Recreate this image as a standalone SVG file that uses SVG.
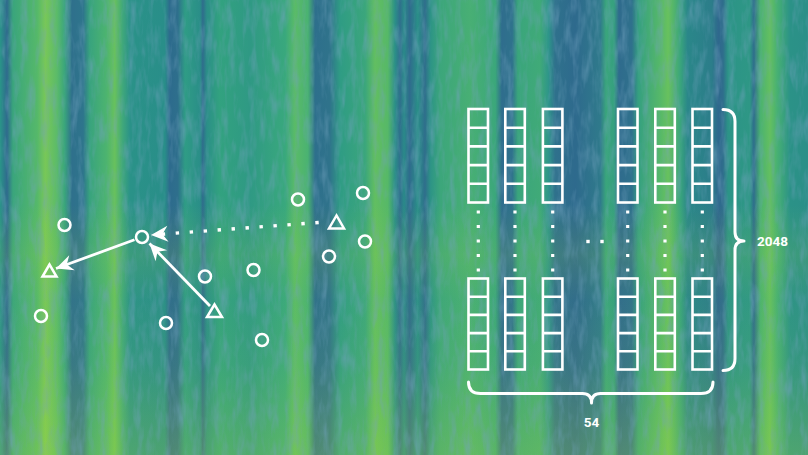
<svg xmlns="http://www.w3.org/2000/svg" width="808" height="455" viewBox="0 0 808 455">
<defs>
<linearGradient id="bg" x1="0" y1="0" x2="808" y2="0" gradientUnits="userSpaceOnUse">
<stop offset="0" stop-color="#2a9588"/>
<stop offset="0.0087" stop-color="#2f6b8d"/>
<stop offset="0.016" stop-color="#3aa57c"/>
<stop offset="0.046" stop-color="#55b86a"/>
<stop offset="0.056" stop-color="#78c758"/>
<stop offset="0.0705" stop-color="#5bbb69"/>
<stop offset="0.080" stop-color="#3aa57c"/>
<stop offset="0.089" stop-color="#2f708c"/>
<stop offset="0.103" stop-color="#2e758c"/>
<stop offset="0.111" stop-color="#38a37e"/>
<stop offset="0.132" stop-color="#4db46f"/>
<stop offset="0.142" stop-color="#68c15d"/>
<stop offset="0.152" stop-color="#3fa77b"/>
<stop offset="0.161" stop-color="#2a9288"/>
<stop offset="0.204" stop-color="#298e89"/>
<stop offset="0.210" stop-color="#2d6b8d"/>
<stop offset="0.220" stop-color="#2e6f8c"/>
<stop offset="0.229" stop-color="#2f9c85"/>
<stop offset="0.2475" stop-color="#2a8e88"/>
<stop offset="0.251" stop-color="#2f6d8c"/>
<stop offset="0.256" stop-color="#2b8f88"/>
<stop offset="0.272" stop-color="#32a27f"/>
<stop offset="0.309" stop-color="#2f9984"/>
<stop offset="0.353" stop-color="#39a87d"/>
<stop offset="0.365" stop-color="#5abb67"/>
<stop offset="0.381" stop-color="#4ab272"/>
<stop offset="0.390" stop-color="#2e6f8c"/>
<stop offset="0.408" stop-color="#2f738b"/>
<stop offset="0.421" stop-color="#2f9c84"/>
<stop offset="0.452" stop-color="#3ba67c"/>
<stop offset="0.464" stop-color="#62be61"/>
<stop offset="0.480" stop-color="#56b868"/>
<stop offset="0.489" stop-color="#2b8f88"/>
<stop offset="0.495" stop-color="#2f6f8c"/>
<stop offset="0.500" stop-color="#2a8a89"/>
<stop offset="0.507" stop-color="#2f6b8d"/>
<stop offset="0.517" stop-color="#2a8f88"/>
<stop offset="0.526" stop-color="#2f6e8c"/>
<stop offset="0.533" stop-color="#2d9486"/>
<stop offset="0.545" stop-color="#3ca67b"/>
<stop offset="0.582" stop-color="#48af74"/>
<stop offset="0.613" stop-color="#3ba77b"/>
<stop offset="0.621" stop-color="#2f6d8d"/>
<stop offset="0.634" stop-color="#2f728c"/>
<stop offset="0.641" stop-color="#3aa57c"/>
<stop offset="0.668" stop-color="#40aa78"/>
<stop offset="0.679" stop-color="#2e958a"/>
<stop offset="0.687" stop-color="#2f718c"/>
<stop offset="0.712" stop-color="#2e6a8d"/>
<stop offset="0.743" stop-color="#2f7a8b"/>
<stop offset="0.750" stop-color="#3aa57c"/>
<stop offset="0.760" stop-color="#36a07f"/>
<stop offset="0.766" stop-color="#2f6b8d"/>
<stop offset="0.782" stop-color="#2f718c"/>
<stop offset="0.790" stop-color="#35a080"/>
<stop offset="0.817" stop-color="#56b869"/>
<stop offset="0.827" stop-color="#68c15e"/>
<stop offset="0.842" stop-color="#3aa57c"/>
<stop offset="0.851" stop-color="#2a8789"/>
<stop offset="0.881" stop-color="#2c7d8a"/>
<stop offset="0.889" stop-color="#2f688d"/>
<stop offset="0.895" stop-color="#2f6e8c"/>
<stop offset="0.901" stop-color="#2c9487"/>
<stop offset="0.928" stop-color="#2e9785"/>
<stop offset="0.933" stop-color="#2f6e8c"/>
<stop offset="0.941" stop-color="#4ab270"/>
<stop offset="0.953" stop-color="#64bf60"/>
<stop offset="0.962" stop-color="#47b073"/>
<stop offset="0.978" stop-color="#2b9287"/>
<stop offset="1" stop-color="#2b8f88"/>
</linearGradient>
<linearGradient id="vt" x1="0" y1="0" x2="0" y2="455" gradientUnits="userSpaceOnUse">
<stop offset="0" stop-color="#b5de2b" stop-opacity="0"/>
<stop offset="0.45" stop-color="#b5de2b" stop-opacity="0"/>
<stop offset="0.56" stop-color="#b5de2b" stop-opacity="0.12"/>
<stop offset="0.66" stop-color="#b5de2b" stop-opacity="0.03"/>
<stop offset="0.80" stop-color="#b5de2b" stop-opacity="0.08"/>
<stop offset="1" stop-color="#b5de2b" stop-opacity="0.25"/>
</linearGradient>
<filter id="noise" x="0" y="0" width="100%" height="100%">
<feTurbulence type="fractalNoise" baseFrequency="0.14 0.035" numOctaves="3" seed="4"/>
<feColorMatrix type="matrix" values="0 0 0 0 0.17  0 0 0 0 0.36  0 0 0 0 0.52  1.1 0 0 0 -0.48"/>
</filter>
<marker id="ah" viewBox="-19 -9 21 18" refX="0" refY="0" markerWidth="21" markerHeight="18" markerUnits="userSpaceOnUse" orient="auto">
<path d="M0,0 L-17,-8 L-11.5,0 L-17,8 Z" fill="#fff"/>
</marker>
<style>
.nd{fill:none;stroke:#fff;stroke-width:2.5}
.tri{fill:none;stroke:#fff;stroke-width:2.5;stroke-linejoin:miter}
.cn{fill:none;stroke:#fff;stroke-width:2.8}
.dot{fill:none;stroke:#fff;stroke-width:3.4;stroke-dasharray:3.4 10.6}
.col{fill:none;stroke:#fff;stroke-width:2.6}
.vd{fill:none;stroke:#fff;stroke-width:3.2;stroke-dasharray:3.2 11.3}
.br{fill:none;stroke:#fff;stroke-width:3;stroke-linecap:round;stroke-linejoin:round}
.lb{fill:#fff;font-family:Roboto,"Liberation Sans",sans-serif;font-weight:bold;font-size:13.5px;text-anchor:middle}
</style>
</defs>

<g id="background">
<rect width="808" height="455" fill="url(#bg)"/>
<rect width="808" height="455" fill="url(#vt)"/>
<rect width="808" height="455" filter="url(#noise)"/>
</g>

<g id="connectors">
<path class="cn" d="M134.5,239.8 L56,268.5" marker-end="url(#ah)"/>
<path class="cn" d="M210,306 L149.5,243.5" marker-end="url(#ah)"/>
<path class="dot" d="M318.7,222.5 L151,235" marker-end="url(#ah)"/>
</g>

<g id="graph-nodes">
<g id="c1"><circle class="nd" cx="64.5" cy="225" r="6"/></g>
<g id="c2"><circle class="nd" cx="142" cy="237" r="6"/></g>
<g id="c3"><circle class="nd" cx="41" cy="316" r="6"/></g>
<g id="c4"><circle class="nd" cx="166" cy="323" r="6"/></g>
<g id="c5"><circle class="nd" cx="205" cy="276.5" r="6"/></g>
<g id="c6"><circle class="nd" cx="253.5" cy="270" r="6"/></g>
<g id="c7"><circle class="nd" cx="262" cy="340" r="6"/></g>
<g id="c8"><circle class="nd" cx="298" cy="199.5" r="6"/></g>
<g id="c9"><circle class="nd" cx="363" cy="193" r="6"/></g>
<g id="c10"><circle class="nd" cx="329" cy="256.5" r="6"/></g>
<g id="c11"><circle class="nd" cx="365" cy="241.5" r="6"/></g>
<g id="t1"><polygon class="tri" points="49.5,264.5 42.5,276.5 56.5,276.5"/></g>
<g id="t2"><polygon class="tri" points="214.5,304.5 207,317 222,317"/></g>
<g id="t3"><polygon class="tri" points="336.5,215.5 329,228.5 344,228.5"/></g>
</g>

<g id="matrix">
<defs>
<g id="colTop">
<rect class="col" x="0" y="0" width="19.5" height="93.5"/>
<path class="col" d="M0,18.7H19.5M0,37.4H19.5M0,56.1H19.5M0,74.8H19.5"/>
</g>
<g id="colBot">
<rect class="col" x="0" y="0" width="19.5" height="91"/>
<path class="col" d="M0,18.2H19.5M0,36.4H19.5M0,54.6H19.5M0,72.8H19.5"/>
</g>
</defs>
<g id="col1"><use href="#colTop" x="468.5" y="109"/><use href="#colBot" x="468.5" y="278.5"/><path class="vd" d="M478.3,210.4V272"/></g>
<g id="col2"><use href="#colTop" x="505.3" y="109"/><use href="#colBot" x="505.3" y="278.5"/><path class="vd" d="M515,210.4V272"/></g>
<g id="col3"><use href="#colTop" x="542.9" y="109"/><use href="#colBot" x="542.9" y="278.5"/><path class="vd" d="M552.7,210.4V272"/></g>
<g id="col4"><use href="#colTop" x="618" y="109"/><use href="#colBot" x="618" y="278.5"/><path class="vd" d="M627.7,210.4V272"/></g>
<g id="col5"><use href="#colTop" x="655.3" y="109"/><use href="#colBot" x="655.3" y="278.5"/><path class="vd" d="M665,210.4V272"/></g>
<g id="col6"><use href="#colTop" x="692.5" y="109"/><use href="#colBot" x="692.5" y="278.5"/><path class="vd" d="M702.3,210.4V272"/></g>
<g id="hdots"><rect x="586.3" y="239.8" width="3.4" height="3.4" fill="#fff"/><rect x="600.3" y="239.8" width="3.4" height="3.4" fill="#fff"/></g>
</g>

<g id="brace-rows">
<path class="br" d="M723,109.5 Q735,109.5 735,121.5 L735,232 Q735,241 744,241 Q735,241 735,250 L735,358.5 Q735,370.5 723,370.5"/>
<text class="lb" x="772.5" y="246">2048</text>
</g>
<g id="brace-cols">
<path class="br" d="M468.5,382 Q468.5,393.5 480.5,393.5 L582.5,393.5 Q591.5,393.5 591.5,403 Q591.5,393.5 600.5,393.5 L701,393.5 Q713,393.5 713,382"/>
<text class="lb" x="591.5" y="427">54</text>
</g>
</svg>
